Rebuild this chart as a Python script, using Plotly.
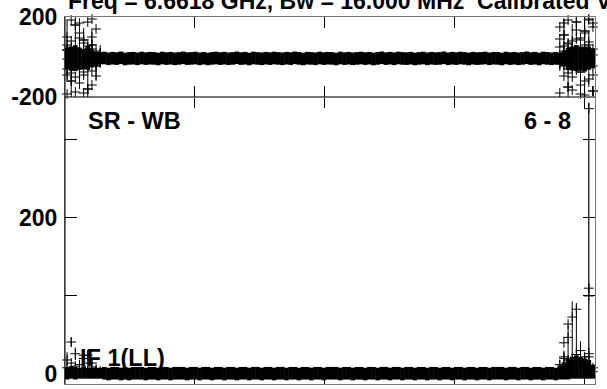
import plotly.graph_objects as go

# ---------------- data ----------------
channels = list(range(1, 129))

# phase (degrees), first sample per channel
phase_a = [35, -120, 160, -20, 85, -160, 60, -45, 20,
           -5, -9, -6, -8, -4, -10, -7, -6, -9, -5, -8, -6, -7, -10, -5, -8, -6, -9, -7, -4,
           -8, -7, -5, -9, -6, -10, -7, -5, -8, -6, -9, -7, -4, -8, -6, -10, -5, -7, -9, -6,
           -8, -5, -7, -9, -6, -8, -4, -7, -10, -6, -7, -9, -5, -8, -6, -7, -10, -5, -8, -6,
           -9, -7, -5, -8, -6, -10, -7, -4, -8, -6, -9, -5, -7, -8, -6, -10, -7, -5, -9, -6,
           -8, -7, -4, -9, -6, -8, -5, -7, -10, -6, -8, -7, -5, -9, -6, -7, -10, -5, -8, -6,
           -9, -7, -4, -8, -6, -10, -5, -7, -9, -6,
           -30, 110, -150, 45, 175, -75, 130, -10, -170]
# phase, second sample per channel
phase_b = [-60, 20, -175, 120, -90, 40, -140, 5, -30,
           -8, -5, -10, -6, -9, -4, -8, -11, -6, -9, -5, -10, -7, -4, -9, -7, -11, -5, -8, -10,
           -6, -9, -11, -5, -8, -4, -10, -8, -5, -9, -7, -11, -6, -9, -5, -8, -10, -6, -4, -9,
           -7, -10, -5, -8, -11, -6, -9, -5, -8, -10, -6, -4, -9, -7, -11, -5, -8, -10, -6, -9,
           -5, -10, -7, -4, -9, -7, -11, -5, -8, -10, -6, -9, -11, -5, -8, -4, -10, -8, -5, -9,
           -7, -11, -6, -9, -5, -8, -10, -6, -4, -9, -7, -10, -5, -8, -11, -6, -9, -5, -8, -10,
           -6, -4, -9, -7, -11, -5, -8, -10, -6, -9,
           150, -40, 70, -165, -55, 95, -120, 185, 40]
# noisy edge channels (1..9 and 120..128): error, core value and core spread
phase_err_edge = [150, 120, 90, 140, 60, 110, 80, 70, 40,
                  40, 80, 50, 120, 70, 150, 90, 140, 25]
phase_core_edge = [-7, -9, -6, -8, -10, -5, -7, -9, -6,
                   -8, -6, -9, -7, -5, -8, -10, -6, -7]
phase_spread_edge = [55, 60, 65, 55, 50, 60, 45, 35, 30,
                     30, 40, 55, 60, 65, 60, 62, 58, 50]

# extra phase samples in the noisy edge channels
edge_chan = [1, 2, 3, 4, 5, 6, 7, 8, 9, 120, 121, 122, 123, 124, 125, 126, 127, 128,
             1, 2, 3, 4, 5, 6, 7, 8, 9, 120, 121, 122, 123, 124, 125, 126, 127, 128,
             1, 2, 3, 4, 5, 6, 7, 8, 9, 120, 121, 122, 123, 124, 125, 126, 127, 128,
             1, 2, 3, 4, 5, 6, 7, 8, 9, 120, 121, 122, 123, 124, 125, 126, 127, 128,
             1, 2, 3, 4, 5, 6, 7, 8, 9, 120, 121, 122, 123, 124, 125, 126, 127, 128]
edge_phase = [-185, 185, -30, 170, -180, 25, 190, -95, 10, -180, 25, 185, -100, 15, -185, 60, 190, 10,
              100, -50, 45, -130, 15, 175, -15, 140, -25, 90, -45, 20, -20, 135, 35, -190, -40, 150,
              -10, 50, -100, 30, -45, -5, 100, -35, -15, 10, 170, -60, 80, -10, -140, 15, 75, -45,
              60, -80, 25, -60, 70, -30, 40, -20, 5, -35, 55, -80, 30, -65, 85, -25, 60, -90,
              -90, 80, -40, 95, -75, 55, -70, 30, -15, 50, -95, 65, -55, 90, -40, 120, -110, 170]

# amplitude, one sample per channel
amp = [18, 41, 26, 12, 20, 24, 14, 6, 4,
       1, 0, 1, 1, 0, 1, 0, 1, 1, 1, 0, 1, 1, 0, 1, 1, 0, 1, 1, 1,
       0, 1, 1, 0, 1, 1, 0, 1, 1, 0, 1, 1, 0, 1, 1, 0, 1, 1, 0, 1,
       1, 0, 1, 1, 0, 1, 1, 0, 1, 1, 0, 1, 1, 0, 1, 1, 1, 0, 1, 1,
       0, 1, 1, 0, 1, 1, 0, 1, 1, 0, 1, 1, 0, 1, 1, 0, 1, 1, 0, 1,
       1, 0, 1, 1, 0, 1, 1, 0, 1, 1, 0, 1, 1, 0, 1, 1, 1, 0, 1, 1,
       0, 1, 1, 0, 1, 1, 0, 1, 1, 0,
       12, 20, 47, 73, 83, 30, 15, 26, 8]
# amplitude errors, core value and core spread for the noisy edge channels
amp_err_up_edge = [10, 6, 8, 5, 6, 7, 4, 3, 2,
                   6, 10, 15, 20, 8, 12, 8, 8, 4]
amp_err_down_edge = [10, 6, 8, 5, 6, 7, 4, 3, 2,
                     6, 12, 35, 60, 74, 20, 10, 20, 4]
amp_core_edge = [1, 2, 1, 1, 2, 1, 1, 1, 1,
                 2, 4, 6, 8, 9, 8, 7, 6, 3]
amp_spread_edge = [8, 8, 8, 7, 8, 7, 7, 7, 7,
                   9, 11, 13, 14, 15, 14, 13, 12, 9]

# outlying high-amplitude samples in channel 127 (with their error bars)
spike_chan = [127, 127, 127]
spike_amp = [340, 110, 100]
spike_err_up = [8, 6, 0]
spike_err_down = [335, 6, 0]

# extra amplitude samples at the band edges
amp_edge_chan = [1, 2, 4, 5, 6, 7, 121, 121, 122, 122, 123, 124, 125, 126, 127, 128, 3, 8, 124, 125, 126]
amp_edge_val = [8, 14, 6, 24, 14, 9, 22, 40, 18, 64, 20, 25, 15, 22, 22, 3, 10, 5, 12, 8, 18]

y_top_ticks = [-200, 200]
y_top_labels = ["-200", "200"]
y_bot_ticks = [0, 100, 200, 300]
y_bot_labels = ["0", "", "200", ""]
x_ticks = [31.66, 63.06, 94.46, 125.86]

title_text = "Freq = 6.6618 GHz, Bw = 16.000 MHz\u00a0\u00a0Calibrated Visibilities"
baseline_text = "SR - WB"
pair_text = "6 - 8"
if_text = "IF 1(LL)"

# ---------------- figure ----------------
FONT = "Liberation Sans, Arial, Helvetica, sans-serif"
PH_PX = 80 / 400.0          # pixels per degree in the phase panel
AMP_PX = 287 / 367.8        # pixels per amplitude unit in the amplitude panel
mk = dict(symbol="cross-thin", size=7, line=dict(width=1, color="black"), color="black", opacity=1)
band = dict(symbol="line-ns", size=9, line=dict(width=4.6, color="black"), color="black", opacity=1)

LO, HI = 9, 119   # noisy band edges: channels 1..9 and 120..128


def edges(seq):
    return seq[:LO] + seq[HI:]


# line-ns marker length is 1.4 * size
ph_edge_band = dict(band, size=[2 * s * PH_PX / 1.4 for s in phase_spread_edge])
amp_edge_band = dict(band, size=[2 * s * AMP_PX / 1.4 for s in amp_spread_edge])

fig = go.Figure()
# --- phase panel (top) ---
fig.add_trace(go.Scatter(x=channels[LO:HI], y=phase_a[LO:HI], mode="markers", marker=band,
                         xaxis="x2", yaxis="y2", cliponaxis=False))
fig.add_trace(go.Scatter(x=edges(channels), y=phase_core_edge, mode="markers", marker=ph_edge_band,
                         xaxis="x2", yaxis="y2", cliponaxis=False))
fig.add_trace(go.Scatter(x=channels, y=phase_a, mode="markers", marker=mk,
                         xaxis="x2", yaxis="y2", cliponaxis=False))
fig.add_trace(go.Scatter(x=edges(channels), y=edges(phase_a), mode="markers", marker=mk,
                         error_y=dict(type="data", array=phase_err_edge, color="black",
                                      thickness=1, width=0),
                         xaxis="x2", yaxis="y2", cliponaxis=False))
fig.add_trace(go.Scatter(x=channels, y=phase_b, mode="markers", marker=mk,
                         xaxis="x2", yaxis="y2", cliponaxis=False))
fig.add_trace(go.Scatter(x=edge_chan, y=edge_phase, mode="markers", marker=mk,
                         xaxis="x2", yaxis="y2", cliponaxis=False))
# --- amplitude panel (bottom) ---
fig.add_trace(go.Scatter(x=channels[LO:HI], y=amp[LO:HI], mode="markers", marker=band,
                         xaxis="x", yaxis="y", cliponaxis=False))
fig.add_trace(go.Scatter(x=edges(channels), y=amp_core_edge, mode="markers", marker=amp_edge_band,
                         xaxis="x", yaxis="y", cliponaxis=False))
fig.add_trace(go.Scatter(x=channels[LO:HI], y=amp[LO:HI], mode="markers", marker=mk,
                         xaxis="x", yaxis="y", cliponaxis=False))
fig.add_trace(go.Scatter(x=edges(channels), y=edges(amp), mode="markers", marker=mk,
                         error_y=dict(type="data", symmetric=False, array=amp_err_up_edge,
                                      arrayminus=amp_err_down_edge, color="black",
                                      thickness=1, width=0),
                         xaxis="x", yaxis="y", cliponaxis=False))
fig.add_trace(go.Scatter(x=amp_edge_chan, y=amp_edge_val, mode="markers", marker=mk,
                         xaxis="x", yaxis="y", cliponaxis=False))
fig.add_trace(go.Scatter(x=spike_chan, y=spike_amp, mode="markers", marker=mk,
                         error_y=dict(type="data", symmetric=False, array=spike_err_up,
                                      arrayminus=spike_err_down, color="black",
                                      thickness=1.2, width=0),
                         xaxis="x", yaxis="y", cliponaxis=False))

tickfont = dict(family=FONT, size=23, color="black", weight="bold")
split = (384 - 97) / 367.0

xcommon = dict(range=[0.5, 128.5], tickvals=x_ticks, showticklabels=False, ticks="inside",
               tickcolor="black", ticklen=11, showgrid=False, zeroline=False, automargin=False,
               showline=True, linecolor="#777777", linewidth=1, mirror="ticks")
ycommon = dict(ticks="inside", ticklen=12, tickcolor="black", tickfont=tickfont,
               ticklabelstandoff=2, automargin=False,
               showgrid=False, zeroline=False, showline=True, linecolor="#777777", mirror="ticks")
fig.update_layout(
    width=607, height=389,
    margin=dict(l=65, r=12, t=17, b=5),
    paper_bgcolor="white", plot_bgcolor="white",
    xaxis=dict(domain=[0, 1], anchor="y", **xcommon),
    xaxis2=dict(domain=[0, 1], anchor="y2", **xcommon),
    yaxis=dict(domain=[0, split], range=[-12.8, 355], tickvals=y_bot_ticks, ticktext=y_bot_labels,
               anchor="x", **ycommon),
    yaxis2=dict(domain=[split, 1], range=[-200, 200], tickvals=y_top_ticks, ticktext=y_top_labels,
                anchor="x2", **ycommon),
    showlegend=False,
)
# crisp black left frame line
fig.add_shape(type="line", xref="paper", yref="paper", x0=0, x1=0, y0=0, y1=1,
              line=dict(color="black", width=1))

annfont = dict(family=FONT, size=23.5, color="black", weight="bold")
fig.add_annotation(text=title_text, xref="paper", yref="paper", x=0.002, y=1, xanchor="left",
                   yanchor="bottom", yshift=1, showarrow=False,
                   font=dict(family=FONT, size=23, color="black", weight="bold"))
fig.add_annotation(text=baseline_text, xref="paper", yref="paper", x=0.04, y=(384 - 106) / 367.0,
                   xanchor="left", yanchor="top", showarrow=False, font=annfont)
fig.add_annotation(text=pair_text, xref="paper", yref="paper", x=(573 - 65) / 530.0, y=(384 - 106) / 367.0,
                   xanchor="right", yanchor="top", showarrow=False, font=annfont)
fig.add_annotation(text=if_text, xref="paper", yref="paper", x=(78 - 65) / 530.0, y=(384 - 343) / 367.0,
                   xanchor="left", yanchor="top", showarrow=False, font=annfont)

fig.write_html("out.html", config={"displayModeBar": False},
               post_script="document.body.style.margin='0';document.body.style.overflow='hidden';")
